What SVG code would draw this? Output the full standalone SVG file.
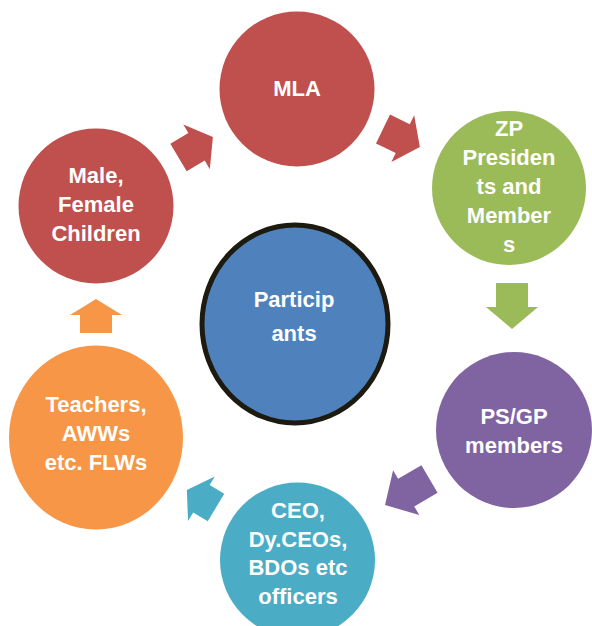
<svg xmlns="http://www.w3.org/2000/svg" width="592" height="626" viewBox="0 0 592 626">
<style>
text{font-family:"Liberation Sans",Arial,sans-serif;font-weight:bold;font-size:22px;fill:#ffffff;text-anchor:middle}
.red{fill:#C0504D}.green{fill:#9BBB59}.purple{fill:#8064A2}.cyan{fill:#4BACC6}.orange{fill:#F79646}.blue{fill:#4F81BD}
</style>
<rect width="592" height="626" fill="#ffffff"/>
<g id="connectors">
<polygon class="red" transform="translate(178.5,157.5) rotate(-30.7)" points="0,-16 21,-16 21,-26 40,0 21,26 21,16 0,16"/>
<polygon class="red" transform="translate(383,129) rotate(26)" points="0,-16 22,-16 22,-26 41,0 22,26 22,16 0,16"/>
<polygon class="green" transform="translate(512,283) rotate(90)" points="0,-16 24,-16 24,-26 46,0 24,26 24,16 0,16"/>
<polygon class="purple" transform="translate(429.5,479) rotate(149.7)" points="0,-16 27,-16 27,-26 51.5,0 27,26 27,16 0,16"/>
<polygon class="cyan" transform="translate(216,507.5) rotate(-149)" points="0,-16 17,-16 17,-26 34,0 17,26 17,16 0,16"/>
<polygon class="orange" transform="translate(96,333) rotate(-90)" points="0,-16 18,-16 18,-26 34,0 18,26 18,16 0,16"/>
</g>
<g id="mla">
<circle class="red" cx="297" cy="89" r="77.5"/>
<text x="297" y="96">MLA</text>
</g>
<g id="zp">
<circle class="green" cx="509" cy="188" r="77"/>
<text x="509" y="136">ZP</text>
<text x="509" y="165">Presiden</text>
<text x="509" y="194">ts and</text>
<text x="509" y="223">Member</text>
<text x="509" y="252">s</text>
</g>
<g id="psgp">
<circle class="purple" cx="514" cy="430" r="78"/>
<text x="514" y="424">PS/GP</text>
<text x="514" y="453">members</text>
</g>
<g id="ceo">
<circle class="cyan" cx="297.5" cy="560" r="77.5"/>
<text x="298" y="518">CEO,</text>
<text x="298" y="547">Dy.CEOs,</text>
<text x="298" y="575">BDOs etc</text>
<text x="298" y="604">officers</text>
</g>
<g id="teachers">
<ellipse class="orange" cx="96" cy="437.5" rx="87" ry="92"/>
<text x="96" y="412">Teachers,</text>
<text x="96" y="441">AWWs</text>
<text x="96" y="470">etc. FLWs</text>
</g>
<g id="children">
<circle class="red" cx="96" cy="206" r="77.5"/>
<text x="96" y="183">Male,</text>
<text x="96" y="212">Female</text>
<text x="96" y="241">Children</text>
</g>
<g id="participants">
<ellipse class="blue" cx="295" cy="324" rx="93" ry="99" stroke="#1d1a10" stroke-width="5"/>
<text x="294" y="307">Particip</text>
<text x="294" y="341">ants</text>
</g>
</svg>
